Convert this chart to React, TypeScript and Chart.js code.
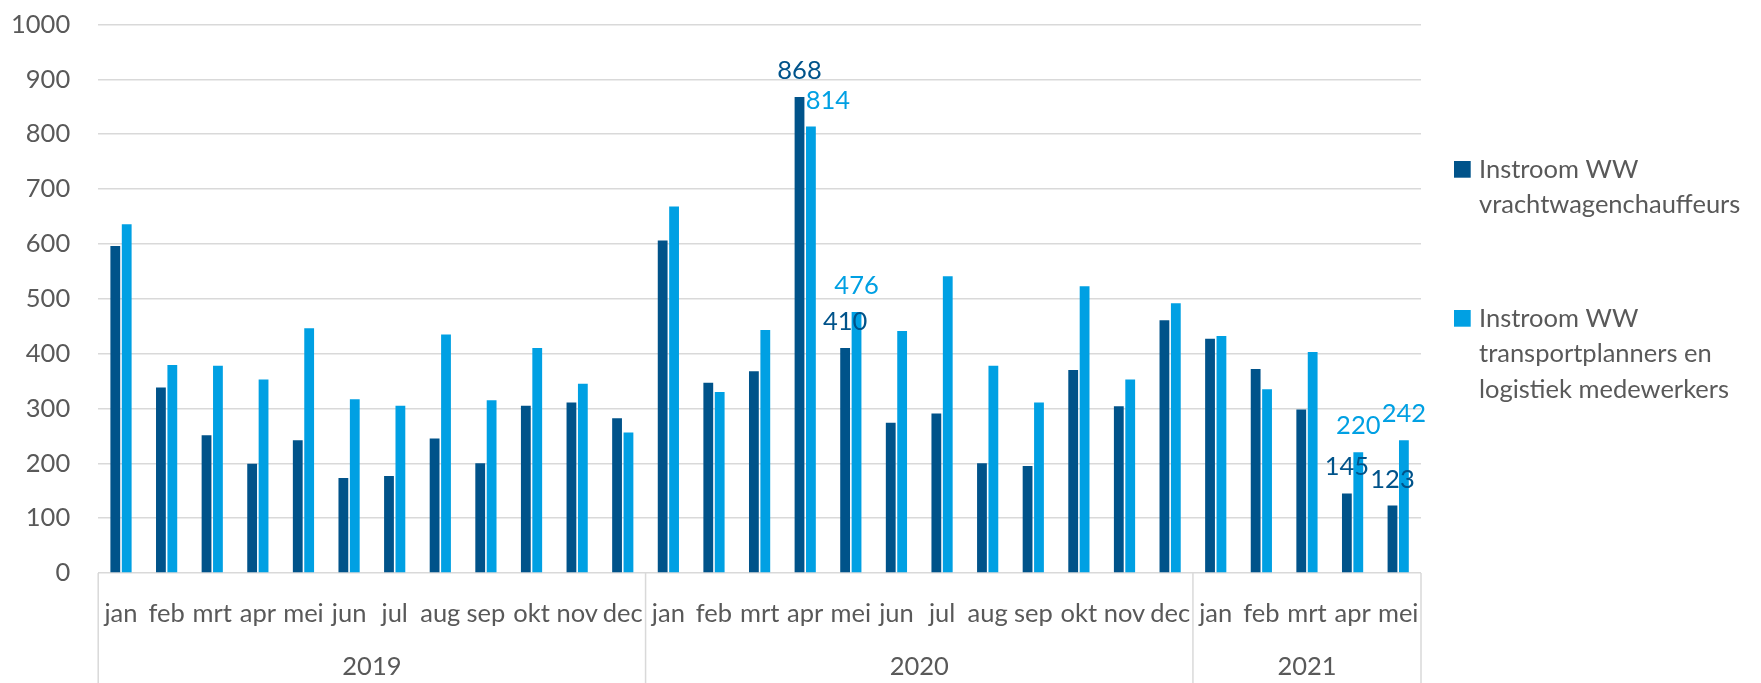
import { useEffect, useRef } from "react";
import { Chart, registerables } from "chart.js";

Chart.register(...registerables);

// ---- data ----
const months = [
  "jan", "feb", "mrt", "apr", "mei", "jun", "jul", "aug", "sep", "okt", "nov", "dec",
  "jan", "feb", "mrt", "apr", "mei", "jun", "jul", "aug", "sep", "okt", "nov", "dec",
  "jan", "feb", "mrt", "apr", "mei",
];
const years = ["2019", "2020", "2021"];
const monthsPerYear = [12, 12, 5];
const chauffeurs = [
  596, 338, 251, 199, 242, 173, 177, 245, 200, 305, 311, 282,
  606, 347, 368, 868, 410, 274, 291, 200, 195, 370, 304, 461,
  427, 372, 298, 145, 123,
];
const planners = [
  636, 379, 378, 353, 446, 317, 305, 435, 315, 410, 345, 256,
  668, 330, 443, 814, 476, 441, 541, 378, 311, 523, 353, 492,
  432, 335, 403, 220, 242,
];
const seriesNames = [
  ["Instroom WW", "vrachtwagenchauffeurs"],
  ["Instroom WW", "transportplanners en", "logistiek medewerkers"],
];
const labelledIndices = [15, 16, 27, 28];
const yMax = 1000;
const yStep = 100;

// ---- style ----
const W = 1761;
const H = 683;
const FONT = "Lato, 'Open Sans', sans-serif";
const FS = 25.5;
const TEXT = "#595959";
const GRID = "#D9D9D9";
const colors = ["#00538A", "#00A0E3"];
const labelShiftX: Record<string, number> = { "1-15": 17 };
const legendBoxes = [
  { x: 1454, y: 161, baseline: 177.7 },
  { x: 1454, y: 310, baseline: 326.7 },
];

const overlay = {
  id: "overlay",
  afterDraw(chart: any) {
    const ctx = chart.ctx as CanvasRenderingContext2D;
    const xs = chart.scales.x;
    const area = chart.chartArea;
    ctx.save();
    // data labels
    ctx.font = `${FS}px ${FONT}`;
    ctx.textAlign = "center";
    ctx.textBaseline = "alphabetic";
    chart.data.datasets.forEach((ds: any, di: number) => {
      const meta = chart.getDatasetMeta(di);
      labelledIndices.forEach((i) => {
        const el = meta.data[i];
        const shift = labelShiftX[`${di}-${i}`] ?? 0;
        ctx.fillStyle = colors[di];
        ctx.fillText(String(ds.data[i]), el.x + shift, el.y - 18);
      });
    });
    // year separators and labels
    const bounds = [0];
    monthsPerYear.forEach((n) => bounds.push(bounds[bounds.length - 1] + n));
    ctx.strokeStyle = GRID;
    ctx.lineWidth = 1.5;
    bounds.forEach((b) => {
      const px = xs.getPixelForValue(b - 0.5);
      ctx.beginPath();
      ctx.moveTo(px, area.bottom);
      ctx.lineTo(px, H);
      ctx.stroke();
    });
    ctx.fillStyle = TEXT;
    years.forEach((yr, k) => {
      const a = xs.getPixelForValue(bounds[k] - 0.5);
      const b = xs.getPixelForValue(bounds[k + 1] - 0.5);
      ctx.fillText(yr, (a + b) / 2, 675);
    });
    // legend
    ctx.textAlign = "left";
    seriesNames.forEach((lines, di) => {
      const box = legendBoxes[di];
      ctx.fillStyle = colors[di];
      ctx.fillRect(box.x, box.y, 16.7, 16.7);
      ctx.fillStyle = TEXT;
      lines.forEach((ln, li) => {
        ctx.fillText(ln, box.x + 25, box.baseline + li * 35.4);
      });
    });
    ctx.restore();
  },
};

export default function App() {
  const ref = useRef<HTMLCanvasElement | null>(null);
  useEffect(() => {
    if (!ref.current) return;
    const chart = new Chart(ref.current, {
      type: "bar",
      data: {
        labels: months,
        datasets: [
          {
            label: seriesNames[0].join(" "),
            data: chauffeurs,
            backgroundColor: colors[0],
            barPercentage: 0.86,
            categoryPercentage: 0.5,
          },
          {
            label: seriesNames[1].join(" "),
            data: planners,
            backgroundColor: colors[1],
            barPercentage: 0.86,
            categoryPercentage: 0.5,
          },
        ],
      },
      options: {
        responsive: false,
        animation: false,
        layout: { padding: { top: 24.5, right: 340, left: 0, bottom: 0 } },
        plugins: {
          legend: { display: false },
          tooltip: { enabled: false },
        },
        scales: {
          x: {
            grid: { display: false },
            border: { display: false },
            ticks: {
              autoSkip: false,
              maxRotation: 0,
              minRotation: 0,
              padding: 17,
              color: TEXT,
              font: { family: FONT, size: FS },
            },
            afterFit: (s: any) => {
              s.height = 110;
            },
          },
          y: {
            min: 0,
            max: yMax,
            grid: { color: GRID, lineWidth: 1.5, drawTicks: false },
            border: { display: false },
            ticks: {
              stepSize: yStep,
              padding: 28,
              color: TEXT,
              font: { family: FONT, size: FS },
              callback: (v: any) => String(v),
            },
            afterFit: (s: any) => {
              s.width = 98.2;
              s.paddingTop = 0;
              s.paddingBottom = 0;
            },
          },
        },
      },
      plugins: [overlay],
    });
    return () => chart.destroy();
  }, []);
  return (
    <div style={{ position: "fixed", left: 0, top: 0, width: W, height: H, background: "#fff" }}>
      <canvas ref={ref} width={W} height={H} style={{ width: W, height: H, display: "block" }} />
    </div>
  );
}
